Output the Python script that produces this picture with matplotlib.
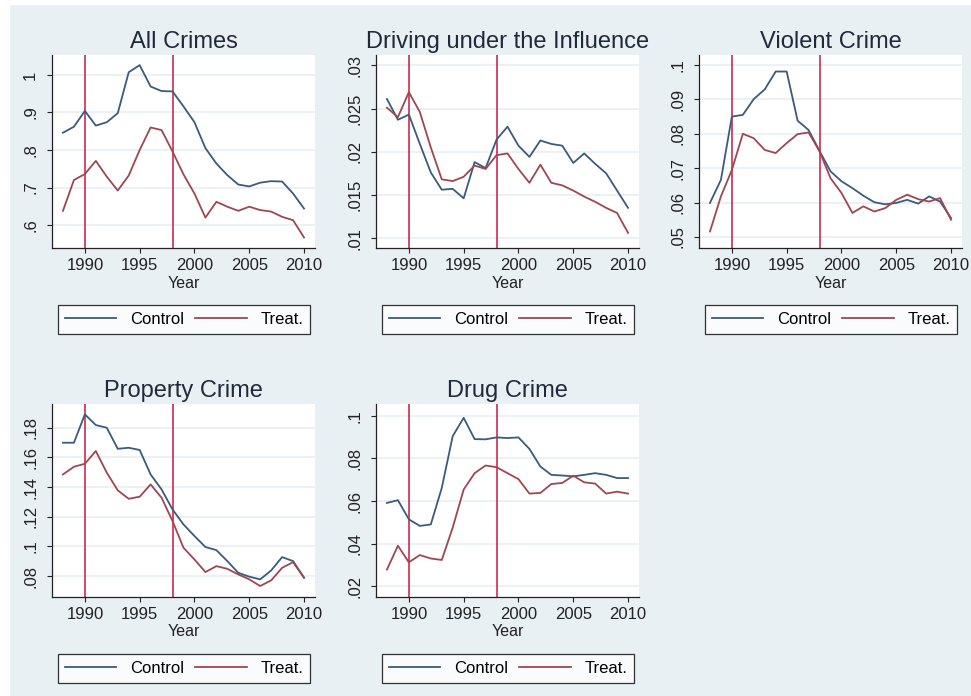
import numpy as np
import matplotlib
matplotlib.use('Agg')
import matplotlib.pyplot as plt
from matplotlib.patches import Rectangle

plt.rcParams['font.family'] = ['Liberation Sans', 'DejaVu Sans']

years = list(range(1988, 2011))

all_control = [0.846, 0.862, 0.904, 0.865, 0.874, 0.898, 1.007, 1.026, 0.969, 0.957, 0.956, 0.916,
               0.874, 0.805, 0.764, 0.733, 0.708, 0.703, 0.713, 0.717, 0.716, 0.684, 0.644]
all_treat = [0.638, 0.720, 0.736, 0.771, 0.729, 0.692, 0.732, 0.800, 0.860, 0.853, 0.796, 0.735,
             0.684, 0.620, 0.662, 0.649, 0.638, 0.649, 0.640, 0.636, 0.622, 0.613, 0.567]

dui_control = [0.0261, 0.0237, 0.0243, 0.0209, 0.0176, 0.0156, 0.0157, 0.0146, 0.0188, 0.0181, 0.0214, 0.0229,
               0.0207, 0.0194, 0.0213, 0.0209, 0.0207, 0.0187, 0.0198, 0.0186, 0.0175, 0.0155, 0.0135]
dui_treat = [0.0251, 0.0240, 0.0269, 0.0246, 0.0205, 0.0168, 0.0166, 0.0171, 0.0184, 0.0180, 0.0196, 0.0198,
             0.0180, 0.0164, 0.0185, 0.0164, 0.0161, 0.0155, 0.0148, 0.0142, 0.0135, 0.0129, 0.0106]

violent_control = [0.0599, 0.0666, 0.0850, 0.0855, 0.0901, 0.0929, 0.0981, 0.0981, 0.0838, 0.0811, 0.0750, 0.0691,
                   0.0662, 0.0642, 0.0620, 0.0601, 0.0595, 0.0599, 0.0608, 0.0597, 0.0618, 0.0603, 0.0555]
violent_treat = [0.0516, 0.0618, 0.0695, 0.0800, 0.0787, 0.0753, 0.0744, 0.0773, 0.0799, 0.0804, 0.0749, 0.0671,
                 0.0628, 0.0570, 0.0589, 0.0574, 0.0584, 0.0608, 0.0623, 0.0610, 0.0603, 0.0613, 0.0550]

property_control = [0.1699, 0.1699, 0.1890, 0.1818, 0.1800, 0.1658, 0.1665, 0.1650, 0.1485, 0.1384, 0.1249, 0.1148,
                    0.1070, 0.0996, 0.0975, 0.0901, 0.0822, 0.0796, 0.0778, 0.0838, 0.0928, 0.0901, 0.0789]
property_treat = [0.1485, 0.1537, 0.1557, 0.1643, 0.1497, 0.1378, 0.1321, 0.1335, 0.1418, 0.1328, 0.1171, 0.0991,
                  0.0912, 0.0827, 0.0867, 0.0849, 0.0811, 0.0778, 0.0733, 0.0771, 0.0856, 0.0894, 0.0789]

drug_control = [0.0591, 0.0604, 0.0514, 0.0483, 0.0490, 0.0661, 0.0905, 0.0991, 0.0891, 0.0890, 0.0899, 0.0896,
                0.0899, 0.0845, 0.0762, 0.0723, 0.0720, 0.0716, 0.0723, 0.0731, 0.0723, 0.0708, 0.0708]
drug_treat = [0.0278, 0.0390, 0.0312, 0.0346, 0.0330, 0.0323, 0.0475, 0.0654, 0.0731, 0.0767, 0.0759, 0.0731,
              0.0703, 0.0635, 0.0638, 0.0680, 0.0685, 0.0719, 0.0688, 0.0682, 0.0635, 0.0644, 0.0635]

titles = ['All Crimes', 'Driving under the Influence', 'Violent Crime', 'Property Crime', 'Drug Crime']
controls = [all_control, dui_control, violent_control, property_control, drug_control]
treats = [all_treat, dui_treat, violent_treat, property_treat, drug_treat]

ytick_values = [[0.6, 0.7, 0.8, 0.9, 1.0],
                [0.01, 0.015, 0.02, 0.025, 0.03],
                [0.05, 0.06, 0.07, 0.08, 0.09, 0.1],
                [0.08, 0.10, 0.12, 0.14, 0.16, 0.18],
                [0.02, 0.04, 0.06, 0.08, 0.1]]
ytick_labels = [['.6', '.7', '.8', '.9', '1'],
                ['.01', '.015', '.02', '.025', '.03'],
                ['.05', '.06', '.07', '.08', '.09', '.1'],
                ['.08', '.1', '.12', '.14', '.16', '.18'],
                ['.02', '.04', '.06', '.08', '.1']]
ylims = [(0.539, 1.053), (0.00885, 0.0312), (0.0468, 0.1029), (0.0659, 0.196), (0.0149, 0.1056)]

xticks = [1990, 1995, 2000, 2005, 2010]
policy_years = [1990, 1998]

bg = '#e8f0f3'
c_control = '#3a5b7c'
c_treat = '#a04650'
c_vline = '#cc1742'

fig = plt.figure(figsize=(9.71, 6.96), dpi=100, facecolor=bg)
# thin white strip on the left and top edges
fig.patches.append(Rectangle((0, 0), 9 / 971, 1, transform=fig.transFigure, color='white', zorder=-1))
fig.patches.append(Rectangle((0, 1 - 4 / 696), 1, 4 / 696, transform=fig.transFigure, color='white', zorder=-1))

W, H = 971, 696
boxes = [(52, 55), (376, 55), (699, 55), (52, 404), (376, 404)]
aw, ah = 263, 193

for i in range(5):
    x0, y0 = boxes[i]
    ax = fig.add_axes([x0 / W, 1 - (y0 + ah) / H, aw / W, ah / H])
    ax.set_facecolor('white')
    for s in ['top', 'right']:
        ax.spines[s].set_visible(False)
    for s in ['left', 'bottom']:
        ax.spines[s].set_color('#222222')
        ax.spines[s].set_linewidth(0.9)

    ax.set_xlim(1987, 2011)
    ax.set_ylim(*ylims[i])
    ax.set_yticks(ytick_values[i])
    ax.set_yticklabels(ytick_labels[i], rotation=90, va='center')
    ax.set_xticks(xticks)
    ax.tick_params(axis='both', labelsize=12, length=3.5, width=0.8, colors='#222222')
    ax.tick_params(axis='y', pad=6.5)
    ax.tick_params(axis='x', pad=3.5)
    ax.yaxis.grid(True, color='#e6eef1', linewidth=1.1)
    ax.set_axisbelow(True)

    for yr in policy_years:
        ax.axvline(yr, color=c_vline, linewidth=1.1, zorder=2)

    ax.plot(years, controls[i], color=c_control, linewidth=1.3, label='Control', zorder=3)
    ax.plot(years, treats[i], color=c_treat, linewidth=1.3, label='Treat.', zorder=3)

    ax.set_title(titles[i], fontsize=17, color='#1f2a3a', pad=5)
    ax.set_xlabel('Year', fontsize=11.5, labelpad=2, color='#222222')

    leg = ax.legend(loc='center', bbox_to_anchor=(0.023, -0.456, 0.958, 0.171), mode='expand', ncol=2,
                    fontsize=12, handlelength=3.1, handletextpad=0.8, borderpad=0.4, borderaxespad=0,
                    fancybox=False, frameon=True)
    leg.get_frame().set_edgecolor('black')
    leg.get_frame().set_linewidth(0.9)

fig.savefig('out.png', dpi=100, facecolor=bg)
